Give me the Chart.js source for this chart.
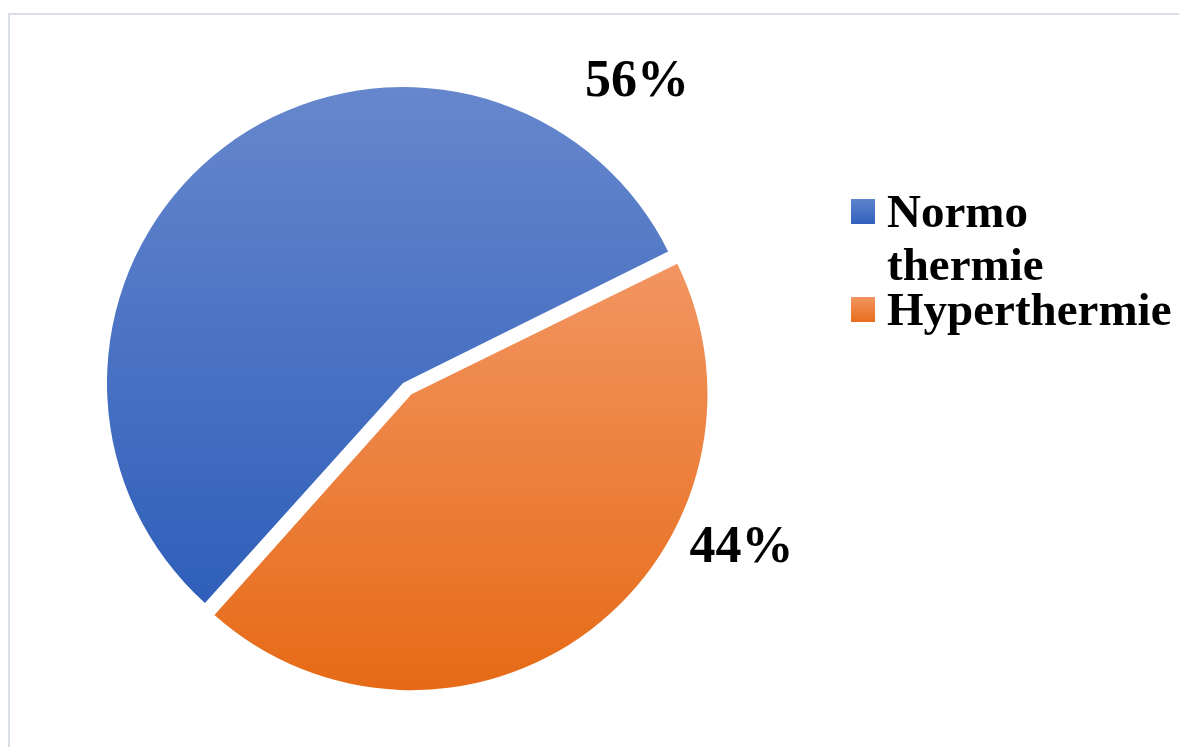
<!DOCTYPE html>
<html>
<head>
<meta charset="utf-8">
<title>Normothermie / Hyperthermie</title>
<script src="https://cdn.jsdelivr.net/npm/chart.js@4/dist/chart.umd.min.js"></script>
<style>
  html, body { margin: 0; padding: 0; background: #ffffff; }
  canvas { display: block; }
</style>
</head>
<body>
<canvas id="pie" width="1179" height="747"></canvas>
<script>
// Categories and their shares (percent)
const categories = ['Normo thermie', 'Hyperthermie'];
const shares = [56, 44];

// Vertical gradient stops for each slice: [position, colour]
const sliceGradients = [
  [[0, '#6687cd'], [0.87, '#2f5fba'], [1, '#2d5cb6']],
  [[0, '#f6a877'], [0.28, '#f29561'], [1, '#e66a16']]
];
const legendSwatches = [
  ['#5f83cb', '#3062bc'],
  ['#f29561', '#e86d1c']
];

const PIE_RADIUS = 296;
const SERIF = '"Liberation Serif", "Times New Roman", serif';

// Where each percentage sits: fraction along its slice's arc, and distance as a multiple of the radius
const labelAnchors = [
  { along: 0.870, dist: 1.29 },
  { along: 0.329, dist: 1.262 }
];

function sliceFill(c) {
  const chart = c.chart;
  const area = chart.chartArea;
  const stops = sliceGradients[c.dataIndex];
  if (!area) return stops[stops.length - 1][1];
  const cy = (area.top + area.bottom) / 2;
  const g = chart.ctx.createLinearGradient(0, cy - PIE_RADIUS, 0, cy + PIE_RADIUS);
  stops.forEach(([p, col]) => g.addColorStop(p, col));
  return g;
}

// Light frame around the chart
const framePlugin = {
  id: 'frame',
  beforeDraw(chart) {
    const ctx = chart.ctx;
    ctx.save();
    ctx.strokeStyle = '#dadfe5';
    ctx.lineWidth = 2;
    ctx.beginPath();
    ctx.moveTo(9, chart.height);
    ctx.lineTo(9, 14);
    ctx.lineTo(chart.width, 14);
    ctx.stroke();
    ctx.restore();
  }
};

// Exploded slices keep the same radius as the others
const equalRadiusPlugin = {
  id: 'equalRadius',
  beforeDatasetsDraw(chart) {
    chart.getDatasetMeta(0).data.forEach(arc => {
      const off = arc.options.offset || 0;
      if (!off) return;
      const circ = arc.endAngle - arc.startAngle;
      const fix = 1 - Math.sin(Math.min(Math.PI, circ));
      arc.outerRadius = PIE_RADIUS - (off / 4) * fix;
    });
  }
};

// Percentage labels outside the slices
const percentPlugin = {
  id: 'percentLabels',
  afterDatasetsDraw(chart) {
    const ctx = chart.ctx;
    const meta = chart.getDatasetMeta(0);
    ctx.save();
    ctx.font = 'bold 52px ' + SERIF;
    ctx.fillStyle = '#000000';
    ctx.textAlign = 'center';
    ctx.textBaseline = 'middle';
    meta.data.forEach((arc, i) => {
      const a = labelAnchors[i];
      const ang = arc.startAngle + (arc.endAngle - arc.startAngle) * a.along;
      const r = PIE_RADIUS * a.dist;
      ctx.fillText(shares[i] + '%', arc.x + Math.cos(ang) * r + 2, arc.y + Math.sin(ang) * r + 3);
    });
    ctx.restore();
  }
};

// Legend on the right, wrapping long names
const legendPlugin = {
  id: 'sideLegend',
  afterDraw(chart) {
    const ctx = chart.ctx;
    const boxX = 851, boxW = 24, boxH = 25;
    const textX = 887;
    const maxW = chart.width - textX - 4;
    const lineH = 53;
    let baseline = 227;
    ctx.save();
    ctx.font = 'bold 47px ' + SERIF;
    ctx.textBaseline = 'alphabetic';
    ctx.textAlign = 'left';
    categories.forEach((name, i) => {
      // wrap by words
      const words = name.split(' ');
      const lines = [];
      let cur = '';
      words.forEach(w => {
        const t = cur ? cur + ' ' + w : w;
        if (cur && ctx.measureText(t).width > maxW) { lines.push(cur); cur = w; }
        else cur = t;
      });
      if (cur) lines.push(cur);

      const boxTop = baseline - 28;
      const g = ctx.createLinearGradient(0, boxTop, 0, boxTop + boxH);
      g.addColorStop(0, legendSwatches[i][0]);
      g.addColorStop(1, legendSwatches[i][1]);
      ctx.fillStyle = g;
      ctx.fillRect(boxX, boxTop, boxW, boxH);

      ctx.fillStyle = '#000000';
      lines.forEach(l => { ctx.fillText(l, textX, baseline); baseline += lineH; });
      baseline -= 8;
    });
    ctx.restore();
  }
};

new Chart(document.getElementById('pie'), {
  type: 'pie',
  data: {
    labels: categories,
    datasets: [{
      data: shares,
      backgroundColor: sliceFill,
      borderWidth: 0,
      offset: [0, 56]
    }]
  },
  options: {
    responsive: false,
    animation: false,
    devicePixelRatio: 1,
    rotation: 222,
    radius: PIE_RADIUS,
    layout: { padding: { left: 0, right: 373, top: 19, bottom: 0 } },
    plugins: {
      legend: { display: false },
      tooltip: { enabled: false }
    }
  },
  plugins: [framePlugin, equalRadiusPlugin, percentPlugin, legendPlugin]
});
</script>
</body>
</html>
